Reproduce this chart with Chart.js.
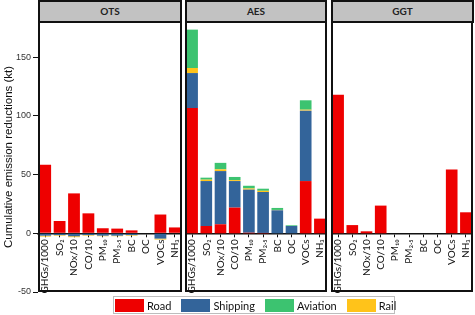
<!DOCTYPE html>
<html>
<head>
<meta charset="utf-8">
<script src="https://cdn.jsdelivr.net/npm/chart.js@4"></script>
<style>
  body { margin: 0; background: #fff; }
  #page { position: relative; width: 475px; height: 315px; overflow: hidden; }
  canvas { position: absolute; top: 22px; }
  .strip {
    position: absolute; top: 0; height: 23px; box-sizing: border-box;
    background: #c2c2c2; border: 2px solid #111;
    font: bold 10px Lato, "Liberation Sans", sans-serif; color: #222;
    text-align: center; line-height: 19px;
  }
  #legend {
    position: absolute; left: 113px; top: 296px; width: 282px; height: 18px;
    box-sizing: border-box; border: 1px solid #bdbdbd;
    display: flex; align-items: center; padding-left: 1px;
    font: 11px Lato, "Liberation Sans", sans-serif; color: #111;
  }
  #legend .sw { width: 29px; height: 13px; box-sizing: border-box; margin-right: 3px; }
  #legend .item { display: flex; align-items: center; margin-right: 10px; }
</style>
</head>
<body>
<div id="page">
  <canvas id="c1" width="182" height="293" style="left:0px"></canvas>
  <canvas id="c2" width="142" height="293" style="left:185px"></canvas>
  <canvas id="c3" width="142" height="293" style="left:331px"></canvas>
  <div class="strip" style="left:38px;width:144px">OTS</div>
  <div class="strip" style="left:185px;width:142px">AES</div>
  <div class="strip" style="left:331px;width:143px">GGT</div>
  <div id="legend"></div>
</div>

<script>
// pollutants on the x axis (scaled as in the figure)
const pollutants = ['GHGs/1000', 'SO₂', 'NOx/10', 'CO/10', 'PM₁₀', 'PM₂.₅', 'BC', 'OC', 'VOCs', 'NH₃'];

// cumulative reductions (kt)
const otsRoad     = [58.5, 10.5, 34, 17, 4.3, 4, 2.5, 0, 16, 5];
const otsShipping = [-2, -1.5, -2.5, -1.5, -2, -2, -1.5, 0, -4.5, 0];
const otsRail     = [-0.8, -0.5, -0.8, -0.5, -0.5, -0.5, -0.5, 0, -0.8, 0];
const otsAviation = [0, 0, 0, 0, 0, 0, 0, 0, 0, 0];

const aesRoad     = [106.7, 6.2, 7.7, 21.9, 0.5, 0.3, 0, 0, 44.5, 12.5];
const aesShipping = [29.8, 38.3, 45.3, 22.6, 36.7, 34.9, 19.6, 6.2, 60, 0];
const aesRail     = [4.3, 1.2, 1.5, 0.8, 1, 1, 0.3, 0, 0.8, 0];
const aesAviation = [32.7, 1.7, 5.5, 2.7, 2.3, 1.8, 1.7, 0.6, 8, 0];

const ggtRoad     = [118, 7, 1.7, 23.6, 0, 0, 0, 0, 54.3, 17.9];
const ggtShipping = [0, 0, 0, 0, 0, 0, 0, 0, 0, 0];
const ggtRail     = [0, 0, 0, 0, 0, 0, 0, 0, 0, 0];
const ggtAviation = [0, 0, 0, 0, 0, 0, 0, 0, 0, 0];

const modes  = ['Road', 'Shipping', 'Aviation', 'Rail'];
const colors = { Road: '#ee0000', Shipping: '#33649a', Aviation: '#3cc370', Rail: '#ffc31a' };

const yMin = -50, yMax = 180;

// black box round each panel
const panelFrame = {
    id: 'panelFrame',
    afterDraw(chart) {
        const a = chart.chartArea;
        const ctx = chart.ctx;
        ctx.save();
        ctx.strokeStyle = '#111';
        ctx.lineWidth = 2;
        ctx.strokeRect(a.left + 1, a.top, a.right - a.left - 2, a.bottom - a.top - 1);
        ctx.restore();
    }
};

// move the category axis up so it sits on the zero line, labels hang below it
const axisAtZero = {
    id: 'axisAtZero',
    afterLayout(chart) {
        const x = chart.scales.x;
        const y0 = chart.scales.y.getPixelForValue(0);
        x.top = y0;
        x.bottom = y0 + 60;
    }
};

function makePanel(id, road, shipping, rail, aviation, showY) {
    // stacking order bottom -> top: Road, Shipping, Rail, Aviation
    const series = [['Road', road], ['Shipping', shipping], ['Rail', rail], ['Aviation', aviation]];
    new Chart(document.getElementById(id), {
        type: 'bar',
        data: {
            labels: pollutants,
            datasets: series.map(s => ({
                label: s[0],
                data: s[1],
                backgroundColor: colors[s[0]],
                borderWidth: 0,
                barPercentage: 0.82,
                categoryPercentage: 1
            }))
        },
        options: {
            responsive: false,
            animation: false,
            devicePixelRatio: 1,
            layout: { padding: { top: 0, right: 0, left: 0, bottom: 23 } },
            plugins: { legend: { display: false }, tooltip: { enabled: false } },
            scales: {
                x: {
                    stacked: true,
                    position: 'bottom',
                    grid: { drawOnChartArea: false, offset: false, tickLength: 4, color: '#111', tickWidth: 1 },
                    border: { display: true, color: '#111', width: 1.5 },
                    ticks: {
                        autoSkip: false, minRotation: 90, maxRotation: 90, padding: 2,
                        color: '#111', font: { family: 'Lato, "DejaVu Sans", sans-serif', size: 10 }
                    },
                    afterFit(s) { s.height = 0; s.paddingLeft = 0; s.paddingRight = 0; }
                },
                y: {
                    stacked: true,
                    display: showY,
                    min: yMin,
                    max: yMax,
                    grid: { drawOnChartArea: false, tickLength: 5, color: '#111' },
                    border: { display: false },
                    ticks: {
                        stepSize: 50, includeBounds: false, padding: 2,
                        color: '#333', font: { family: '"Liberation Sans", Arial, sans-serif', size: 9 }
                    },
                    title: {
                        display: true,
                        text: 'Cumulative emission reductions (kt)',
                        color: '#111',
                        font: { family: '"Liberation Sans", Arial, sans-serif', size: 11.5 },
                        padding: { top: 2, bottom: 0 }
                    },
                    afterFit(s) { if (showY) s.width = 38; s.paddingTop = 0; s.paddingBottom = 0; }
                }
            }
        },
        plugins: [axisAtZero, panelFrame]
    });
}

makePanel('c1', otsRoad, otsShipping, otsRail, otsAviation, true);
makePanel('c2', aesRoad, aesShipping, aesRail, aesAviation, false);
makePanel('c3', ggtRoad, ggtShipping, ggtRail, ggtAviation, false);

// shared legend under the panels
const legend = document.getElementById('legend');
modes.forEach(m => {
    const item = document.createElement('div');
    item.className = 'item';
    const sw = document.createElement('div');
    sw.className = 'sw';
    sw.style.background = colors[m];
    const txt = document.createElement('span');
    txt.textContent = m;
    item.appendChild(sw);
    item.appendChild(txt);
    legend.appendChild(item);
});
</script>
</body>
</html>
